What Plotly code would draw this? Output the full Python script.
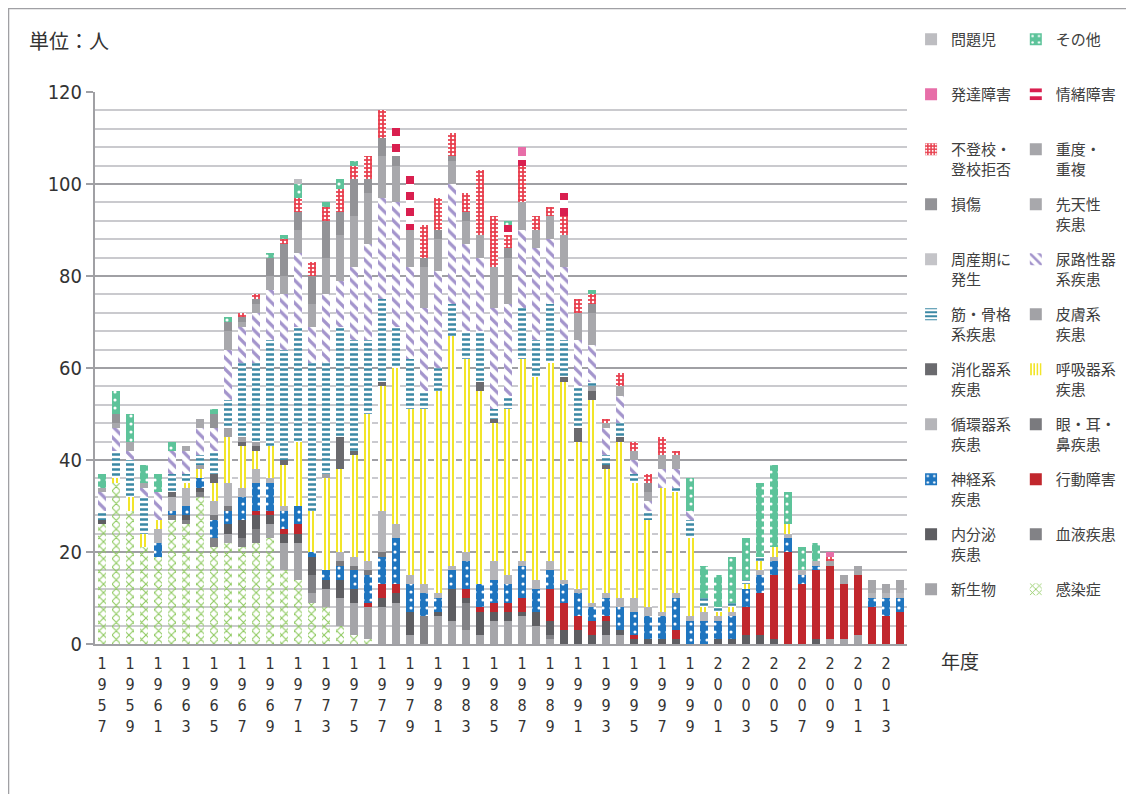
import plotly.graph_objects as go

YEARS = list(range(1957, 2015))

# ---- series values (people), bottom of stack first ----
kansen = [26, 35, 29, 21, 19, 27, 26, 32, 21, 22,
          21, 22, 23, 16, 14, 9, 8, 4, 2, 1,
          0, 0, 0, 0, 0, 0, 0, 0, 0, 0,
          0, 0, 0, 0, 0, 0, 0, 0, 0, 0,
          0, 0, 0, 0, 0, 0, 0, 0, 0, 0,
          0, 0, 0, 0, 0, 0, 0, 0]
shinseibutsu = [0, 0, 0, 0, 0, 0, 0, 0, 0, 2,
                0, 0, 3, 6, 8, 2, 4, 6, 7, 7,
                8, 9, 2, 0, 6, 5, 3, 2, 5, 5,
                6, 4, 1, 0, 0, 0, 2, 2, 0, 0,
                0, 0, 0, 0, 0, 0, 0, 0, 0, 0,
                0, 0, 1, 1, 2, 0, 0, 0]
ketsueki = [0, 0, 0, 0, 0, 1, 1, 1, 2, 0,
            2, 3, 0, 0, 0, 4, 0, 0, 0, 0,
            0, 0, 0, 6, 0, 0, 6, 0, 0, 0,
            0, 0, 1, 0, 0, 0, 0, 0, 0, 0,
            0, 0, 0, 0, 0, 0, 0, 0, 0, 0,
            0, 0, 0, 0, 0, 0, 0, 0]
naibunpi = [1, 0, 0, 0, 0, 0, 1, 1, 0, 2,
            4, 3, 2, 2, 2, 4, 2, 4, 3, 0,
            2, 2, 5, 0, 1, 7, 1, 5, 2, 2,
            1, 3, 3, 3, 3, 2, 3, 1, 1, 1,
            1, 1, 0, 0, 1, 1, 2, 2, 1, 0,
            0, 1, 0, 0, 0, 0, 0, 0]
kodo = [0, 0, 0, 0, 0, 0, 0, 0, 0, 0,
        0, 1, 1, 1, 2, 0, 0, 0, 0, 1,
        3, 2, 0, 0, 0, 0, 2, 1, 2, 2,
        3, 0, 7, 6, 3, 3, 1, 0, 1, 0,
        0, 2, 0, 0, 0, 0, 6, 9, 14, 20,
        13, 15, 16, 12, 13, 8, 6, 7]
shinkei = [0, 0, 0, 0, 3, 1, 2, 2, 4, 3,
           5, 6, 6, 4, 4, 1, 2, 3, 4, 6,
           6, 10, 6, 5, 3, 4, 6, 5, 5, 4,
           7, 5, 4, 4, 5, 3, 4, 5, 5, 5,
           5, 7, 5, 5, 4, 5, 4, 4, 3, 3,
           2, 1, 0, 0, 0, 2, 4, 3]
ganjibi = [0, 0, 0, 0, 0, 0, 0, 0, 1, 1,
           0, 0, 0, 0, 0, 0, 0, 1, 1, 1,
           1, 0, 0, 0, 0, 0, 0, 0, 0, 0,
           0, 0, 0, 0, 0, 0, 0, 0, 0, 0,
           0, 0, 0, 0, 0, 0, 0, 0, 0, 0,
           0, 0, 0, 0, 0, 0, 0, 0]
junkan = [0, 0, 0, 0, 3, 3, 4, 0, 3, 5,
          2, 3, 1, 1, 0, 0, 0, 2, 2, 2,
          9, 3, 2, 2, 1, 1, 2, 0, 4, 2,
          1, 2, 2, 1, 1, 1, 1, 2, 3, 2,
          1, 1, 1, 2, 1, 1, 0, 1, 1, 1,
          1, 1, 0, 0, 0, 1, 1, 1]
kokyu = [0, 1, 3, 3, 2, 0, 1, 2, 4, 10,
         9, 4, 7, 9, 14, 9, 20, 18, 22, 32,
         27, 34, 36, 38, 44, 50, 42, 42, 30, 36,
         44, 44, 43, 43, 32, 44, 27, 34, 25, 19,
         27, 22, 17, 1, 1, 1, 1, 2, 2, 2,
         0, 0, 0, 0, 0, 0, 0, 0]
shoka = [0, 0, 0, 0, 0, 1, 0, 0, 2, 0,
         1, 1, 0, 1, 0, 0, 0, 7, 1, 0,
         1, 0, 0, 0, 0, 0, 0, 2, 1, 0,
         0, 0, 0, 1, 3, 2, 1, 1, 0, 0,
         0, 0, 0, 0, 0, 0, 0, 0, 0, 0,
         0, 0, 0, 0, 0, 0, 0, 0]
hifu = [0, 0, 0, 0, 0, 0, 0, 1, 0, 2,
        1, 1, 0, 0, 0, 0, 1, 0, 0, 0,
        0, 0, 0, 0, 0, 0, 0, 0, 0, 0,
        0, 0, 0, 0, 0, 1, 0, 0, 0, 0,
        0, 0, 0, 0, 0, 0, 0, 0, 0, 0,
        0, 0, 0, 0, 0, 0, 0, 0]
kinkokkaku = [2, 6, 8, 8, 0, 4, 2, 2, 5, 6,
              16, 17, 23, 24, 25, 32, 24, 24, 24, 16,
              18, 9, 11, 4, 5, 7, 6, 11, 2, 3,
              11, 8, 13, 8, 9, 1, 2, 3, 2, 2,
              0, 1, 4, 2, 1, 1, 1, 1, 0, 0,
              0, 0, 0, 0, 0, 0, 0, 0]
nyoro = [4, 5, 2, 2, 6, 5, 5, 6, 5, 11,
         8, 11, 11, 12, 16, 8, 15, 10, 16, 21,
         22, 27, 20, 18, 21, 26, 19, 16, 22, 20,
         17, 20, 14, 16, 10, 8, 6, 6, 3, 2,
         4, 4, 2, 0, 0, 0, 0, 0, 0, 0,
         0, 0, 0, 0, 0, 0, 0, 0]
shusanki = [0] * 58
sentensei = [1, 1, 2, 1, 0, 0, 1, 2, 0, 4,
             1, 2, 3, 4, 5, 5, 8, 10, 11, 11,
             9, 8, 8, 9, 7, 5, 5, 5, 9, 10,
             6, 4, 5, 7, 6, 7, 1, 2, 2, 2,
             3, 3, 0, 0, 0, 0, 0, 0, 0, 0,
             0, 0, 0, 0, 0, 0, 0, 0]
sonsho = [0, 2, 0, 0, 0, 0, 0, 0, 3, 2,
          1, 1, 4, 7, 4, 6, 8, 5, 8, 3,
          4, 2, 0, 2, 2, 1, 2, 0, 0, 2,
          0, 0, 0, 0, 0, 2, 0, 0, 0, 2,
          0, 0, 0, 0, 0, 0, 0, 0, 0, 0,
          0, 0, 0, 0, 0, 0, 0, 0]
judo = [0, 0, 0, 0, 0, 0, 0, 0, 0, 0,
        0, 0, 0, 0, 0, 0, 0, 0, 0, 0,
        0, 0, 0, 0, 0, 0, 0, 0, 0, 0,
        0, 0, 0, 0, 0, 0, 0, 0, 0, 0,
        0, 0, 0, 0, 0, 0, 0, 0, 0, 0,
        0, 0, 1, 2, 2, 3, 2, 3]
futoko = [0, 0, 0, 0, 0, 0, 0, 0, 0, 0,
          1, 1, 0, 1, 3, 3, 3, 5, 3, 5,
          6, 0, 0, 7, 7, 5, 4, 14, 11, 3,
          8, 3, 2, 4, 3, 2, 1, 3, 2, 2,
          4, 1, 0, 0, 0, 0, 0, 0, 0, 0,
          0, 0, 1, 0, 0, 0, 0, 0]
jocho = [0, 0, 0, 0, 0, 0, 0, 0, 0, 0,
         0, 0, 0, 0, 0, 0, 0, 0, 0, 0,
         0, 8, 12, 0, 0, 0, 0, 0, 0, 2,
         2, 0, 0, 5, 0, 0, 0, 0, 0, 0,
         0, 0, 0, 0, 0, 0, 0, 0, 0, 0,
         0, 0, 0, 0, 0, 0, 0, 0]
hattatsu = [0, 0, 0, 0, 0, 0, 0, 0, 0, 0,
            0, 0, 0, 0, 0, 0, 0, 0, 0, 0,
            0, 0, 0, 0, 0, 0, 0, 0, 0, 0,
            2, 0, 0, 0, 0, 0, 0, 0, 0, 0,
            0, 0, 0, 0, 0, 0, 0, 0, 0, 0,
            0, 0, 1, 0, 0, 0, 0, 0]
sonota = [3, 5, 6, 4, 4, 2, 0, 0, 1, 1,
          0, 0, 1, 1, 3, 0, 1, 2, 1, 0,
          0, 0, 0, 0, 0, 0, 0, 0, 0, 1,
          0, 0, 0, 0, 0, 1, 0, 0, 0, 0,
          0, 0, 7, 7, 7, 10, 9, 16, 18, 7,
          5, 4, 0, 0, 0, 0, 0, 0]
mondaiji = [0, 0, 0, 0, 0, 0, 0, 0, 0, 0,
            0, 0, 0, 0, 1, 0, 0, 0, 0, 0,
            0, 0, 0, 0, 0, 0, 0, 0, 0, 0,
            0, 0, 0, 0, 0, 0, 0, 0, 0, 0,
            0, 0, 0, 0, 0, 0, 0, 0, 0, 0,
            0, 0, 0, 0, 0, 0, 0, 0]

TICK_YEARS = [y for y in YEARS if y % 2 == 1]
TICK_TEXT = ["<br>".join(str(y)) for y in TICK_YEARS]

FONT_JP = "Noto Sans CJK JP"
NARROW = "Liberation Sans Narrow, DejaVu Sans Condensed, sans-serif"
PAD = "<br>\u3000"
CLEAR = "rgba(0,0,0,0)"


def solid(c):
    return dict(color=c, line=dict(width=0))


def patt(shape, fg, bg, size, sol):
    return dict(color=fg if bg == CLEAR else bg, line=dict(width=0),
                pattern=dict(shape=shape, fgcolor=fg, bgcolor=bg, size=size,
                             solidity=sol, fillmode="replace"))


# name, values, legend column, rank within column, marker
series = [
    ("感染症" + PAD, kansen, "legend2", 11, patt("x", "#8ec95f", CLEAR, 6, 0.33)),
    ("新生物" + PAD, shinseibutsu, "legend", 11, solid("#a5a5a9")),
    ("血液疾患" + PAD, ketsueki, "legend2", 10, solid("#828286")),
    ("内分泌<br>疾患", naibunpi, "legend", 10, solid("#5e5e62")),
    ("行動障害" + PAD, kodo, "legend2", 9, solid("#c1272d")),
    ("神経系<br>疾患", shinkei, "legend", 9, patt(".", "white", "#1f75bf", 8, 0.12)),
    ("眼・耳・<br>鼻疾患", ganjibi, "legend2", 8, solid("#7a7a7e")),
    ("循環器系<br>疾患", junkan, "legend", 8, solid("#b5b5b9")),
    ("呼吸器系<br>疾患", kokyu, "legend2", 7, patt("|", "#f2e52a", "white", 4, 0.5)),
    ("消化器系<br>疾患", shoka, "legend", 7, solid("#6a6a6e")),
    ("皮膚系<br>疾患", hifu, "legend2", 6, solid("#a2a2a6")),
    ("筋・骨格<br>系疾患", kinkokkaku, "legend", 6, patt("-", "#3b88a4", "white", 5, 0.5)),
    ("尿路性器<br>系疾患", nyoro, "legend2", 5, patt("\\", "#a394cc", "white", 8, 0.4)),
    ("周産期に<br>発生", shusanki, "legend", 5, solid("#c4c4c8")),
    ("先天性<br>疾患", sentensei, "legend2", 4, solid("#a8a8ac")),
    ("損傷" + PAD, sonsho, "legend", 4, solid("#939397")),
    ("重度・<br>重複", judo, "legend2", 3, solid("#a6a6aa")),
    ("不登校・<br>登校拒否", futoko, "legend", 3, patt(".", "white", "#e8404f", 4, 0.3)),
    ("情緒障害" + PAD, jocho, "legend2", 2, patt("-", "#d91f4f", "white", 16, 0.5)),
    ("発達障害" + PAD, hattatsu, "legend", 2, solid("#e76ea8")),
    ("その他" + PAD, sonota, "legend2", 1, patt(".", "white", "#5dc39a", 8, 0.12)),
    ("問題児" + PAD, mondaiji, "legend", 1, solid("#bdbdc1")),
]

fig = go.Figure()
for name, vals, leg, rank, marker in series:
    fig.add_trace(go.Bar(x=YEARS, y=vals, name=name, marker=marker,
                         legend=leg, legendgroup=name, legendrank=rank,
                         hoverinfo="x+y+name"))

leg_common = dict(yanchor="top", xanchor="left", y=1.1250,
                  traceorder="grouped", tracegroupgap=13, valign="top",
                  font=dict(family=FONT_JP, size=15, color="#404040"),
                  bgcolor=CLEAR, borderwidth=0, itemwidth=30, maxheight=760)

fig.update_layout(
    width=1134, height=794,
    margin=dict(l=87, r=235, t=84, b=158, autoexpand=False),
    barmode="stack", bargap=0.42,
    paper_bgcolor="white", plot_bgcolor="white",
    legend=dict(x=1.0050, **leg_common),
    legend2=dict(x=1.134, **leg_common),
    xaxis=dict(range=[1956.5, 2014.5], tickmode="array", tickvals=TICK_YEARS,
               ticktext=TICK_TEXT, tickangle=0, showgrid=False,
               showline=True, linecolor="#a0a0a4", linewidth=2,
               ticks="", ticklabelstandoff=4,
               tickfont=dict(family=NARROW, size=16, color="#333333")),
    yaxis=dict(range=[0, 120], dtick=20, tick0=0, showgrid=True,
               gridcolor="#a0a0a4", gridwidth=2,
               minor=dict(dtick=4, showgrid=True, gridcolor="#cacace", gridwidth=2),
               showline=True, linecolor="#a0a0a4", linewidth=2,
               ticks="outside", ticklen=7, tickwidth=2, tickcolor="#a0a0a4",
               zeroline=False,
               tickfont=dict(family=NARROW, size=20, color="#333333")),
    annotations=[
        dict(text="単位：人", xref="paper", yref="paper", x=-0.0837, y=1.0942,
             xanchor="left", yanchor="middle", showarrow=False,
             font=dict(family=FONT_JP, size=20, color="#333333")),
        dict(text="年度", xref="paper", yref="paper", x=1.0653, y=-0.029,
             xanchor="center", yanchor="middle", showarrow=False,
             font=dict(family=FONT_JP, size=19, color="#333333")),
    ],
    shapes=[
        dict(type="rect", xref="paper", yref="paper", x0=-0.1065, x1=1.3,
             y0=-0.4, y1=1.1513, line=dict(color="#a0a0a4", width=1.5),
             fillcolor=CLEAR, layer="below"),
    ],
)

fig.write_html("out.html")
